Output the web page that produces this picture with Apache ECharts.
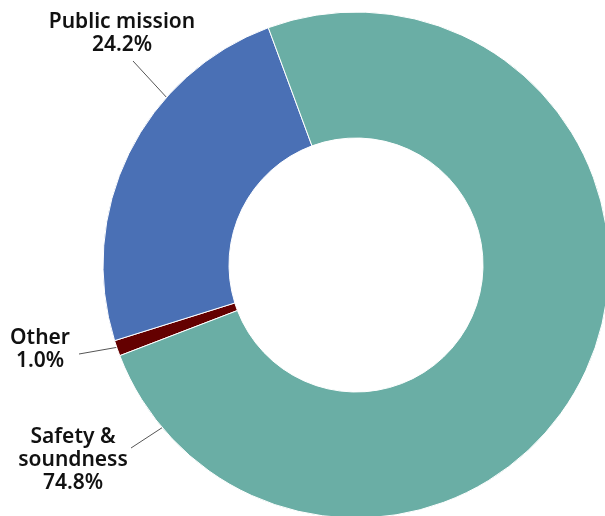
<!DOCTYPE html>
<html>
<head>
<meta charset="utf-8">
<script src="https://cdn.jsdelivr.net/npm/echarts@6/dist/echarts.min.js"></script>
<style>
  html, body { margin: 0; padding: 0; background: #fff; }
  #chart { width: 605px; height: 516px; }
</style>
</head>
<body>
<div id="chart"></div>
<script>
/* ---------- data ---------- */
const categories = ['Other', 'Public mission', 'Safety & soundness'];
const labelTexts = ['Other', 'Public mission', 'Safety &\nsoundness'];
const shares = [1.0, 24.2, 74.8];
const colors = ['#640000', '#4a70b5', '#6aaea5'];

/* ---------- geometry ---------- */
const cx = 356, cy = 265, outerR = 253, innerR = 127;

// where each label line touches the ring (degrees, 0 = right, ccw) and where the text sits
const labelSpots = [
  { angle: 199, end: [79, 354], text: [40, 350] },
  { angle: 138.5, end: [133, 61], text: [122, 34] },
  { angle: 220, end: [131, 448], text: [73, 460] },
];

function ringPoint(deg) {
  const r = deg * Math.PI / 180;
  return [cx + outerR * Math.cos(r), cy - outerR * Math.sin(r)];
}

const chart = echarts.init(document.getElementById('chart'));
chart.setOption({
  animation: false,
  series: [
    {
      type: 'pie',
      center: [cx, cy],
      radius: [innerR, outerR],
      startAngle: 201,
      clockwise: true,
      avoidLabelOverlap: false,
      itemStyle: { borderColor: '#fff', borderWidth: 1 },
      label: {
        show: true,
        position: 'outside',
        formatter: (p) => labelTexts[p.dataIndex] + '\n' + p.value.toFixed(1) + '%',
        fontFamily: 'Noto Sans',
        fontWeight: 600,
        fontSize: 21,
        lineHeight: 23,
        color: '#111',
        align: 'center',
      },
      labelLine: {
        show: true,
        lineStyle: { color: '#555', width: 1 },
      },
      labelLayout: (params) => {
        const s = labelSpots[params.dataIndex];
        const a = ringPoint(s.angle);
        return {
          x: s.text[0],
          y: s.text[1],
          align: 'center',
          verticalAlign: 'middle',
          labelLinePoints: [a, s.end, s.end],
        };
      },
      emphasis: { disabled: true },
      data: categories.map((name, i) => ({
        name,
        value: shares[i],
        itemStyle: { color: colors[i] },
      })),
    },
  ],
});
</script>
</body>
</html>
